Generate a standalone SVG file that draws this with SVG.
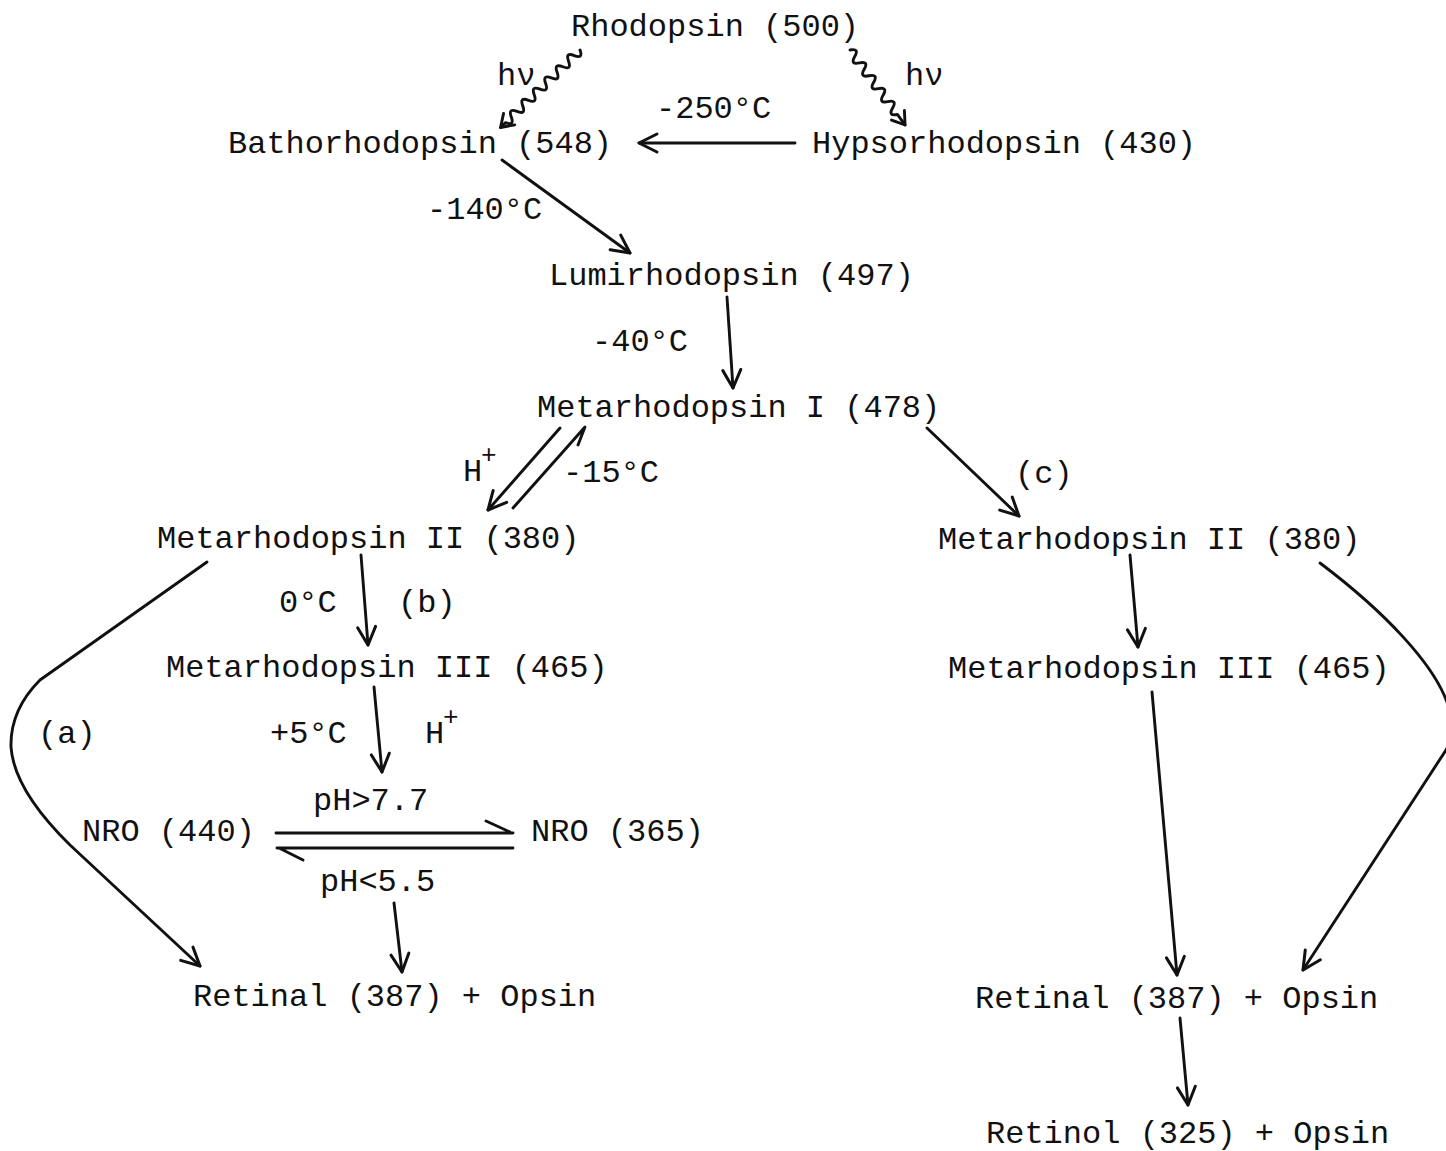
<svg xmlns="http://www.w3.org/2000/svg" width="1446" height="1151" viewBox="0 0 1446 1151">
<style>
text{font-family:"Liberation Mono","DejaVu Sans Mono",monospace;font-size:32px;fill:#111;}
.sup{font-size:26px;}
.ln{fill:none;stroke:#111;stroke-width:2.9;stroke-linecap:round;stroke-linejoin:round;}
</style>
<defs>
<marker id="ah" markerUnits="userSpaceOnUse" markerWidth="26" markerHeight="24" viewBox="0 0 26 24" refX="21" refY="12" orient="auto">
<path d="M3,3 L21,12 L3,21" fill="none" stroke="#111" stroke-width="3" stroke-linecap="round" stroke-linejoin="round"/>
</marker>
</defs>
<rect width="1446" height="1151" fill="#fff"/>

<g id="rhodopsin"><text x="571" y="36">Rhodopsin (500)</text></g>
<g id="bathorhodopsin"><text x="228" y="153">Bathorhodopsin (548)</text></g>
<g id="hypsorhodopsin"><text x="812" y="153">Hypsorhodopsin (430)</text></g>
<g id="lumirhodopsin"><text x="549" y="285">Lumirhodopsin (497)</text></g>
<g id="metarhodopsin-1"><text x="537" y="417">Metarhodopsin I (478)</text></g>
<g id="metarhodopsin-2-left"><text x="157" y="548">Metarhodopsin II (380)</text></g>
<g id="metarhodopsin-2-right"><text x="938" y="549">Metarhodopsin II (380)</text></g>
<g id="metarhodopsin-3-left"><text x="166" y="677">Metarhodopsin III (465)</text></g>
<g id="metarhodopsin-3-right"><text x="948" y="678">Metarhodopsin III (465)</text></g>
<g id="nro-440"><text x="82" y="841">NRO (440)</text></g>
<g id="nro-365"><text x="531" y="841">NRO (365)</text></g>
<g id="retinal-left"><text x="193" y="1006">Retinal (387) + Opsin</text></g>
<g id="retinal-right"><text x="975" y="1008">Retinal (387) + Opsin</text></g>
<g id="retinol"><text x="986" y="1143">Retinol (325) + Opsin</text></g>

<g id="labels">
<text x="497" y="85">hν</text>
<text x="905" y="85">hν</text>
<text x="656" y="118">-250°C</text>
<text x="427" y="219">-140°C</text>
<text x="592" y="351">-40°C</text>
<text x="463" y="481">H</text><text class="sup" x="481" y="463">+</text>
<text x="563" y="482">-15°C</text>
<text x="1015" y="483">(c)</text>
<text x="279" y="612">0°C</text>
<text x="398" y="612">(b)</text>
<text x="38" y="743">(a)</text>
<text x="270" y="743">+5°C</text>
<text x="425" y="743">H</text><text class="sup" x="443" y="725">+</text>
<text x="313" y="810">pH&gt;7.7</text>
<text x="320" y="891">pH&lt;5.5</text>
</g>

<g id="connectors">
<!-- wavy hv arrows -->
<g transform="translate(580,50) rotate(135.7)">
<path class="ln" d="M0,0 q4,-9 8,0 t8,0 t8,0 t8,0 t8,0 t8,0 t8,0 t8,0 t8,0 t8,0 t8,0 t8,0 t8,0 L111,0"/>
<path class="ln" d="M99,-8 L111,0 L99,8"/>
</g>
<g transform="translate(850,50) rotate(53.7)">
<path class="ln" d="M0,0 q4,-9 8,0 t8,0 t8,0 t8,0 t8,0 t8,0 t8,0 t8,0 t8,0 t8,0 L93,0"/>
<path class="ln" d="M81,-8 L93,0 L81,8"/>
</g>
<!-- -250C -->
<line class="ln" x1="795" y1="143" x2="639" y2="143" marker-end="url(#ah)"/>
<!-- -140C -->
<line class="ln" x1="502" y1="160" x2="630" y2="253" marker-end="url(#ah)"/>
<!-- -40C -->
<line class="ln" x1="727" y1="297" x2="733" y2="388" marker-end="url(#ah)"/>
<!-- H+ -->
<line class="ln" x1="560" y1="428" x2="488" y2="510" marker-end="url(#ah)"/>
<!-- -15C -->
<path class="ln" d="M513,508 L585,427 L578,445"/>
<!-- (c) -->
<line class="ln" x1="927" y1="428" x2="1019" y2="516" marker-end="url(#ah)"/>
<!-- left MII -> MIII -->
<line class="ln" x1="361" y1="555" x2="368" y2="645" marker-end="url(#ah)"/>
<!-- MIII -> NRO -->
<line class="ln" x1="374" y1="687" x2="382" y2="772" marker-end="url(#ah)"/>
<!-- NRO equilibrium -->
<path class="ln" d="M276,833 L513,833 M486,821 L510,832"/>
<path class="ln" d="M277,848 L513,848 M279,848 L303,860"/>
<!-- pH<5.5 -> Retinal -->
<line class="ln" x1="394" y1="903" x2="402" y2="972" marker-end="url(#ah)"/>
<!-- (a) curve -->
<path class="ln" d="M207,562 L40,680 Q10,710 11,747 Q14,790 70,845 L200,966" marker-end="url(#ah)"/>
<!-- right MII -> MIII -->
<line class="ln" x1="1130" y1="555" x2="1138" y2="647" marker-end="url(#ah)"/>
<!-- right MIII -> Retinal -->
<line class="ln" x1="1152" y1="692" x2="1177" y2="975" marker-end="url(#ah)"/>
<!-- right curve -->
<path class="ln" d="M1320,563 C1385,612 1435,665 1448,705 C1456,730 1452,740 1446,750 L1303,970" marker-end="url(#ah)"/>
<!-- Retinal -> Retinol -->
<line class="ln" x1="1180" y1="1018" x2="1188" y2="1105" marker-end="url(#ah)"/>
</g>
</svg>
